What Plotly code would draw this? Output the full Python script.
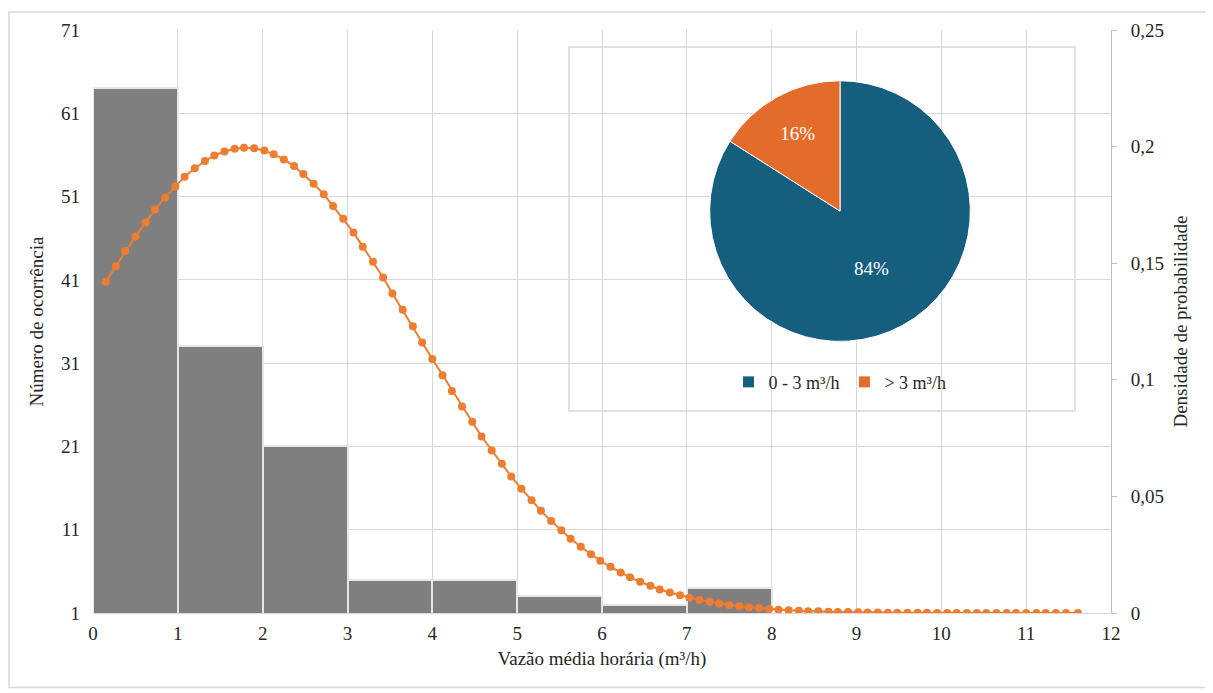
import plotly.graph_objects as go

# Histogram (number of occurrences per 1 m³/h class)
bin_centers = [0.5, 1.5, 2.5, 3.5, 4.5, 5.5, 6.5, 7.5]
counts = [64, 33, 21, 5, 5, 3, 2, 4]

# Probability density curve
dens_x = [0.15, 0.27, 0.38, 0.50, 0.62, 0.73, 0.85, 0.97, 1.08, 1.20,
          1.32, 1.43, 1.55, 1.67, 1.78, 1.90, 2.02, 2.13, 2.25, 2.37,
          2.48, 2.60, 2.72, 2.83, 2.95, 3.07, 3.18, 3.30, 3.42, 3.53,
          3.65, 3.77, 3.88, 4.00, 4.12, 4.23, 4.35, 4.47, 4.58, 4.70,
          4.82, 4.93, 5.05, 5.17, 5.28, 5.40, 5.52, 5.63, 5.75, 5.87,
          5.98, 6.10, 6.22, 6.33, 6.45, 6.57, 6.68, 6.80, 6.92, 7.03,
          7.15, 7.27, 7.38, 7.50, 7.62, 7.73, 7.85, 7.97, 8.08, 8.20,
          8.32, 8.43, 8.55, 8.67, 8.78, 8.90, 9.02, 9.13, 9.25, 9.37,
          9.48, 9.60, 9.72, 9.83, 9.95, 10.07, 10.18, 10.30, 10.42, 10.53,
          10.65, 10.77, 10.88, 11.00, 11.12, 11.23, 11.35, 11.47, 11.61]
dens_y = [0.1420, 0.1487, 0.1552, 0.1615, 0.1675, 0.1730, 0.1782, 0.1829, 0.1871, 0.1907,
          0.1938, 0.1962, 0.1979, 0.1991, 0.1995, 0.1993, 0.1983, 0.1967, 0.1945, 0.1917,
          0.1882, 0.1841, 0.1796, 0.1745, 0.1691, 0.1632, 0.1571, 0.1506, 0.1439, 0.1370,
          0.1300, 0.1230, 0.1160, 0.1089, 0.1020, 0.0952, 0.0885, 0.0820, 0.0757, 0.0697,
          0.0640, 0.0585, 0.0533, 0.0484, 0.0438, 0.0395, 0.0355, 0.0318, 0.0284, 0.0252,
          0.0224, 0.0198, 0.0174, 0.0153, 0.0134, 0.0117, 0.0101, 0.0088, 0.0076, 0.0065,
          0.0056, 0.0048, 0.0041, 0.0034, 0.0029, 0.0025, 0.0021, 0.0017, 0.0014, 0.0012,
          0.0010, 0.0008, 0.0007, 0.0005, 0.0004, 0.0004, 0.0003, 0.0002, 0.0002, 0.0001,
          0.0001, 0.0001, 0.0001, 0.0001, 0.0000, 0.0000, 0.0000, 0.0000, 0.0000, 0.0000,
          0.0000, 0.0000, 0.0000, 0.0000, 0.0000, 0.0000, 0.0000, 0.0000, 0.0000]

# Inset pie
pie_labels = ["0 - 3 m³/h", "> 3 m³/h"]
pie_values = [84, 16]

x_ticks = list(range(0, 13))
left_ticks = [1, 11, 21, 31, 41, 51, 61, 71]
right_ticks = [0, 0.05, 0.1, 0.15, 0.2, 0.25]

FONT = "'Liberation Serif', 'DejaVu Serif', serif"
TXT = "#262626"
GRID = "#d9d9d9"

# page body has an 8px margin: figure is 1205x685 so it fills the window
W, H = 1205, 685
OFF = 8
L, R, T, B = 93 - OFF, 102, 27 - OFF, 80
PW = 1018.0
PH = 586.0


def px_x(px):
    return (px - 93) / PW


def px_y(py):
    return (613 - py) / PH


fig = go.Figure()

fig.add_trace(go.Bar(
    x=bin_centers, y=counts, width=1,
    marker=dict(color="#7f7f7f", line=dict(color="#e6e6e6", width=2)),
    showlegend=False, hoverinfo="skip"))

fig.add_trace(go.Scatter(
    x=dens_x, y=dens_y, yaxis="y2", mode="lines+markers",
    line=dict(color="#ed7d31", width=2),
    marker=dict(color="#ed7d31", size=8),
    showlegend=False, hoverinfo="skip"))

fig.add_trace(go.Pie(
    labels=pie_labels, values=pie_values, sort=False, direction="clockwise",
    rotation=0,
    marker=dict(colors=["#165e7e", "#e46c2b"], line=dict(color="#ffffff", width=1)),
    textinfo="percent", texttemplate="%{percent:.0%}",
    textposition="inside", insidetextorientation="horizontal",
    textfont=dict(family=FONT, size=19, color="#ffffff"),
    domain=dict(x=[px_x(705), px_x(975)], y=[px_y(340), px_y(78)]),
    showlegend=True, hoverinfo="skip"))

fig.update_layout(
    width=W, height=H,
    margin=dict(l=L, r=R, t=T, b=B),
    paper_bgcolor="white", plot_bgcolor="white",
    separators=",.",
    font=dict(family=FONT, size=19, color=TXT),
    bargap=0,
    xaxis=dict(range=[0, 12], tickvals=x_ticks, showgrid=True, gridcolor=GRID,
               gridwidth=1, zeroline=False, showline=True, linecolor=GRID,
               ticks="", tickfont=dict(family=FONT, size=19), ticklabelstandoff=3,
               title=dict(text="Vazão média horária (m³/h)",
                          font=dict(family=FONT, size=19), standoff=8)),
    yaxis=dict(range=[1, 71], tickvals=left_ticks, showgrid=True, gridcolor=GRID,
               zeroline=False, showline=False, ticks="", tickfont=dict(family=FONT, size=19),
               ticklabelstandoff=12,
               title=dict(text="Número de ocorrência",
                          font=dict(family=FONT, size=19), standoff=12)),
    yaxis2=dict(range=[0, 0.25], tickvals=right_ticks, overlaying="y", side="right",
                showgrid=False, zeroline=False, showline=True, linecolor="#bfbfbf",
                ticks="outside", ticklen=5, tickcolor="#bfbfbf",
                tickfont=dict(family=FONT, size=19), ticklabelstandoff=10,
                title=dict(text="Densidade de probabilidade",
                           font=dict(family=FONT, size=19), standoff=10)),
    legend=dict(orientation="h", x=px_x(840), xanchor="center", y=px_y(381), yanchor="middle",
                font=dict(family=FONT, size=18, color=TXT), bgcolor="rgba(0,0,0,0)",
                itemwidth=30, traceorder="normal"),
    shapes=[
        dict(type="rect", xref="paper", yref="paper",
             x0=px_x(569), x1=px_x(1075), y0=px_y(410), y1=px_y(44),
             fillcolor="white", line=dict(color="#d9d9d9", width=1.5), layer="between"),
        dict(type="rect", xref="paper", yref="paper",
             x0=px_x(9), x1=px_x(1208), y0=px_y(688), y1=px_y(9),
             fillcolor="rgba(0,0,0,0)", line=dict(color="#d9d9d9", width=1.5), layer="below"),
    ],
)

fig.write_html("out.html")
